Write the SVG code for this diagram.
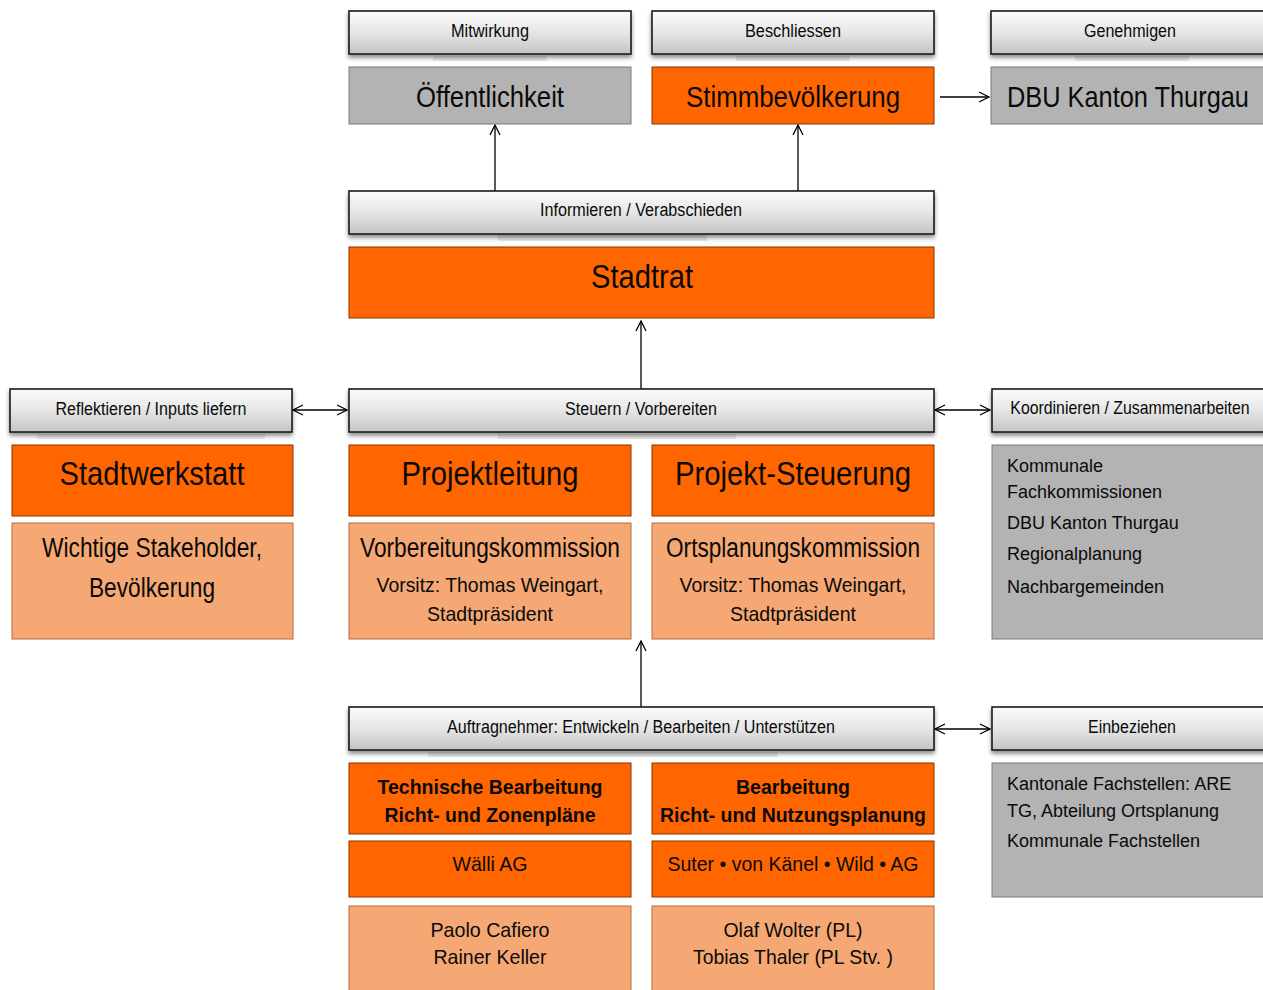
<svg xmlns="http://www.w3.org/2000/svg" width="1263" height="990" viewBox="0 0 1263 990">
<defs>
<linearGradient id="barg" x1="0" y1="0" x2="0" y2="1">
<stop offset="0" stop-color="#fbfbfb"/>
<stop offset="0.5" stop-color="#e6e6e6"/>
<stop offset="1" stop-color="#c4c4c4"/>
</linearGradient>
<filter id="sh" x="-5%" y="-20%" width="110%" height="160%">
<feDropShadow dx="0" dy="3" stdDeviation="2" flood-color="#000" flood-opacity="0.45"/>
</filter>
<marker id="ah" viewBox="0 0 12 12" refX="11" refY="6" markerWidth="12" markerHeight="12" markerUnits="userSpaceOnUse" orient="auto-start-reverse">
<path d="M1,1 L11,6 L1,11" fill="none" stroke="#000" stroke-width="1.3"/>
</marker>
<style>
.bar{fill:url(#barg);stroke:#1a1a1a;stroke-width:1.6;filter:url(#sh)}
.strip{fill:#e9e9e9}
.org{fill:#ff6600;stroke:#8a3300;stroke-width:1}
.lor{fill:#f5a874;stroke:#b86a3a;stroke-width:1}
.gry{fill:#b3b3b3;stroke:#7a7a7a;stroke-width:1}
text{font-family:"Liberation Sans",Arial,sans-serif;fill:#0a0a0a}
.bt{font-size:18px;text-anchor:middle}
.big{font-size:34px;text-anchor:middle}
.mid{font-size:30px;text-anchor:middle}
.m26{font-size:27px;text-anchor:middle}
.m21{font-size:21px;text-anchor:middle}
.b21{font-size:21px;font-weight:bold;text-anchor:middle}
.g18{font-size:18px}
.con{stroke:#000;stroke-width:1.3;fill:none}
</style>
</defs>

<g id="connectors">
<line class="con" x1="495" y1="191" x2="495" y2="125" marker-end="url(#ah)"/>
<line class="con" x1="798" y1="191" x2="798" y2="125" marker-end="url(#ah)"/>
<line class="con" x1="940" y1="97" x2="989" y2="97" marker-end="url(#ah)"/>
<line class="con" x1="641" y1="389" x2="641" y2="321" marker-end="url(#ah)"/>
<line class="con" x1="293" y1="410" x2="347" y2="410" marker-start="url(#ah)" marker-end="url(#ah)"/>
<line class="con" x1="935" y1="410" x2="990" y2="410" marker-start="url(#ah)" marker-end="url(#ah)"/>
<line class="con" x1="641" y1="707" x2="641" y2="641" marker-end="url(#ah)"/>
<line class="con" x1="935" y1="729" x2="990" y2="729" marker-start="url(#ah)" marker-end="url(#ah)"/>
</g>

<g id="mitwirkung">
<rect class="strip" x="433" y="56" width="114" height="5"/>
<rect class="bar" x="349" y="11" width="282" height="43"/>
<text class="bt" x="490" y="37" textLength="78" lengthAdjust="spacingAndGlyphs">Mitwirkung</text>
</g>
<g id="beschliessen">
<rect class="strip" x="736" y="56" width="114" height="5"/>
<rect class="bar" x="652" y="11" width="282" height="43"/>
<text class="bt" x="793" y="37" textLength="96" lengthAdjust="spacingAndGlyphs">Beschliessen</text>
</g>
<g id="genehmigen">
<rect class="strip" x="1075" y="56" width="114" height="5"/>
<rect class="bar" x="991" y="11" width="282" height="43"/>
<text class="bt" x="1130" y="37" textLength="92" lengthAdjust="spacingAndGlyphs">Genehmigen</text>
</g>

<g id="oeffentlichkeit">
<rect class="gry" x="349" y="67" width="282" height="57"/>
<text class="mid" x="490" y="107" textLength="148" lengthAdjust="spacingAndGlyphs">Öffentlichkeit</text>
</g>
<g id="stimmbevoelkerung">
<rect class="org" x="652" y="67" width="282" height="57"/>
<text class="mid" x="793" y="107" textLength="214" lengthAdjust="spacingAndGlyphs">Stimmbevölkerung</text>
</g>
<g id="dbu">
<rect class="gry" x="991" y="67" width="282" height="57"/>
<text class="mid" transform="translate(1128,107) scale(0.845,1)" x="0" y="0">DBU Kanton Thurgau</text>
</g>

<g id="informieren">
<rect class="strip" x="498" y="235" width="209" height="6"/>
<rect class="bar" x="349" y="191" width="585" height="43"/>
<text class="bt" x="641" y="216" textLength="202" lengthAdjust="spacingAndGlyphs">Informieren / Verabschieden</text>
</g>
<g id="stadtrat">
<rect class="org" x="349" y="247" width="585" height="71"/>
<text class="big" x="642" y="288" font-size="36" textLength="102" lengthAdjust="spacingAndGlyphs">Stadtrat</text>
</g>

<g id="reflektieren">
<rect class="strip" x="37" y="434" width="228" height="5"/>
<rect class="bar" x="10" y="389" width="282" height="43"/>
<text class="bt" x="151" y="415" textLength="191" lengthAdjust="spacingAndGlyphs">Reflektieren / Inputs liefern</text>
</g>
<g id="steuern">
<rect class="strip" x="498" y="434" width="238" height="5"/>
<rect class="bar" x="349" y="389" width="585" height="43"/>
<text class="bt" x="641" y="415" textLength="152" lengthAdjust="spacingAndGlyphs">Steuern / Vorbereiten</text>
</g>
<g id="koordinieren">
<rect class="bar" x="992" y="389" width="282" height="43"/>
<text class="bt" transform="translate(1130,414) scale(0.88,1)" x="0" y="0">Koordinieren / Zusammenarbeiten</text>
</g>

<g id="stadtwerkstatt">
<rect class="org" x="12" y="445" width="281" height="71"/>
<text class="big" x="152" y="485" textLength="185" lengthAdjust="spacingAndGlyphs">Stadtwerkstatt</text>
</g>
<g id="projektleitung">
<rect class="org" x="349" y="445" width="282" height="71"/>
<text class="big" x="490" y="485" textLength="177" lengthAdjust="spacingAndGlyphs">Projektleitung</text>
</g>
<g id="projektsteuerung">
<rect class="org" x="652" y="445" width="282" height="71"/>
<text class="big" x="793" y="485" textLength="236" lengthAdjust="spacingAndGlyphs">Projekt-Steuerung</text>
</g>

<g id="stakeholder">
<rect class="lor" x="12" y="523" width="281" height="116"/>
<text class="m26" x="152" y="557" textLength="220" lengthAdjust="spacingAndGlyphs">Wichtige Stakeholder,</text>
<text class="m26" x="152" y="597" textLength="126" lengthAdjust="spacingAndGlyphs">Bevölkerung</text>
</g>
<g id="vorbereitungskommission">
<rect class="lor" x="349" y="523" width="282" height="116"/>
<text class="m26" x="490" y="557" textLength="260" lengthAdjust="spacingAndGlyphs">Vorbereitungskommission</text>
<text class="m21" x="490" y="592" textLength="227" lengthAdjust="spacingAndGlyphs">Vorsitz: Thomas Weingart,</text>
<text class="m21" x="490" y="621" textLength="126" lengthAdjust="spacingAndGlyphs">Stadtpräsident</text>
</g>
<g id="ortsplanungskommission">
<rect class="lor" x="652" y="523" width="282" height="116"/>
<text class="m26" x="793" y="557" textLength="254" lengthAdjust="spacingAndGlyphs">Ortsplanungskommission</text>
<text class="m21" x="793" y="592" textLength="227" lengthAdjust="spacingAndGlyphs">Vorsitz: Thomas Weingart,</text>
<text class="m21" x="793" y="621" textLength="126" lengthAdjust="spacingAndGlyphs">Stadtpräsident</text>
</g>
<g id="fachkommissionen">
<rect class="gry" x="992" y="445" width="282" height="194"/>
<text class="g18" x="1007" y="472">Kommunale</text>
<text class="g18" x="1007" y="498">Fachkommissionen</text>
<text class="g18" x="1007" y="529">DBU Kanton Thurgau</text>
<text class="g18" x="1007" y="560">Regionalplanung</text>
<text class="g18" x="1007" y="593">Nachbargemeinden</text>
</g>

<g id="auftragnehmer">
<rect class="strip" x="428" y="752" width="350" height="5"/>
<rect class="bar" x="349" y="707" width="585" height="43"/>
<text class="bt" x="641" y="733" textLength="388" lengthAdjust="spacingAndGlyphs">Auftragnehmer: Entwickeln / Bearbeiten / Unterstützen</text>
</g>
<g id="einbeziehen">
<rect class="bar" x="992" y="707" width="282" height="43"/>
<text class="bt" x="1132" y="733" textLength="88" lengthAdjust="spacingAndGlyphs">Einbeziehen</text>
</g>

<g id="technische">
<rect class="org" x="349" y="763" width="282" height="71"/>
<text class="b21" x="490" y="794" textLength="225" lengthAdjust="spacingAndGlyphs">Technische Bearbeitung</text>
<text class="b21" x="490" y="822" textLength="211" lengthAdjust="spacingAndGlyphs">Richt- und Zonenpläne</text>
</g>
<g id="bearbeitung">
<rect class="org" x="652" y="763" width="282" height="71"/>
<text class="b21" x="793" y="794" textLength="114" lengthAdjust="spacingAndGlyphs">Bearbeitung</text>
<text class="b21" x="793" y="822" textLength="266" lengthAdjust="spacingAndGlyphs">Richt- und Nutzungsplanung</text>
</g>
<g id="kantonale">
<rect class="gry" x="992" y="763" width="282" height="134"/>
<text class="g18" x="1007" y="790">Kantonale Fachstellen: ARE</text>
<text class="g18" x="1007" y="817">TG, Abteilung Ortsplanung</text>
<text class="g18" x="1007" y="847">Kommunale Fachstellen</text>
</g>

<g id="waelli">
<rect class="org" x="349" y="841" width="282" height="56"/>
<text class="m21" x="490" y="871" textLength="75" lengthAdjust="spacingAndGlyphs">Wälli AG</text>
</g>
<g id="suter">
<rect class="org" x="652" y="841" width="282" height="56"/>
<text class="m21" x="793" y="871" textLength="251" lengthAdjust="spacingAndGlyphs">Suter • von Känel • Wild • AG</text>
</g>
<g id="paolo">
<rect class="lor" x="349" y="906" width="282" height="90"/>
<text class="m21" x="490" y="937" textLength="119" lengthAdjust="spacingAndGlyphs">Paolo Cafiero</text>
<text class="m21" x="490" y="964" textLength="113" lengthAdjust="spacingAndGlyphs">Rainer Keller</text>
</g>
<g id="olaf">
<rect class="lor" x="652" y="906" width="282" height="90"/>
<text class="m21" x="793" y="937" textLength="139" lengthAdjust="spacingAndGlyphs">Olaf Wolter (PL)</text>
<text class="m21" x="793" y="964" textLength="200" lengthAdjust="spacingAndGlyphs">Tobias Thaler (PL Stv. )</text>
</g>
</svg>
